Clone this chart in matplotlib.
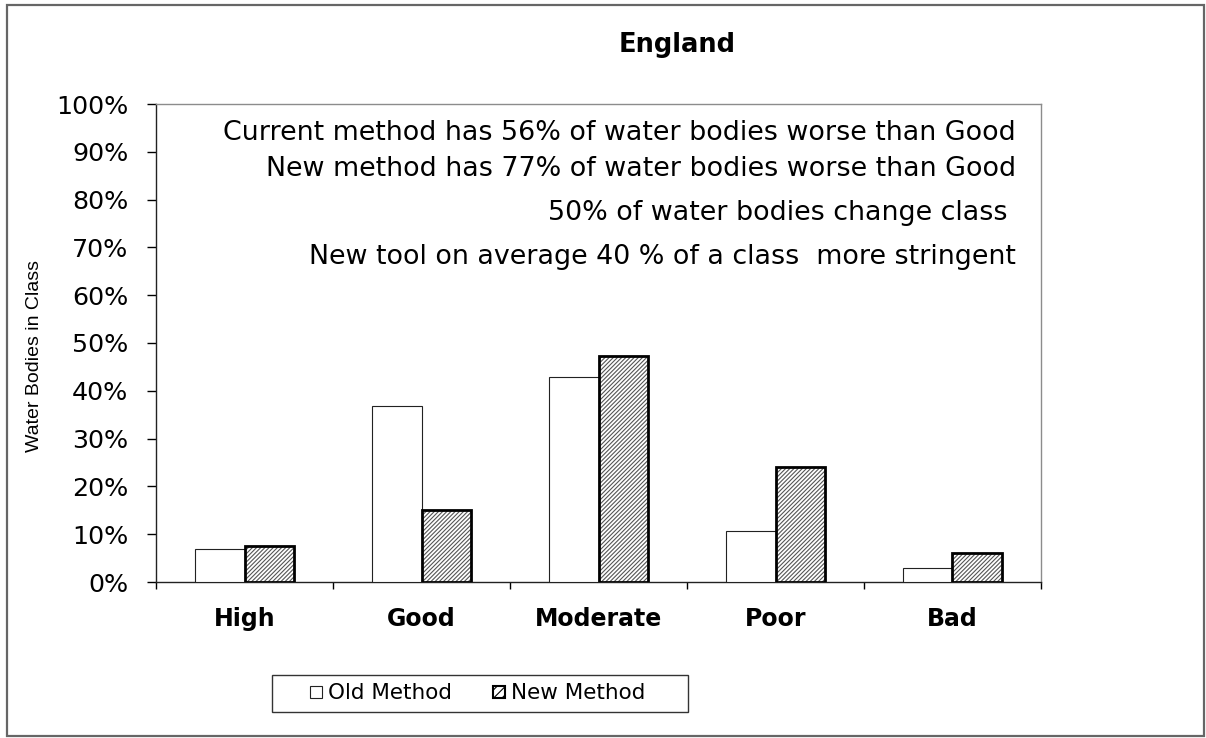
import matplotlib.pyplot as plt
import matplotlib.patches as mpatches
from matplotlib.legend_handler import HandlerPatch
import numpy as np

categories = ["High", "Good", "Moderate", "Poor", "Bad"]
old_method = [6.8, 36.8, 42.8, 10.6, 3.0]
new_method = [7.5, 15.0, 47.3, 24.0, 6.0]
y_ticks = list(range(0, 101, 10))
notes = [
    "Current method has 56% of water bodies worse than Good",
    "New method has 77% of water bodies worse than Good",
    "50% of water bodies change class ",
    "New tool on average 40 % of a class  more stringent",
]

W, H = 1206, 738
plt.rcParams["hatch.linewidth"] = 0.8
plt.rcParams["font.family"] = "DejaVu Sans"

fig = plt.figure(figsize=(W / 100, H / 100), dpi=100)
ax = fig.add_axes([156 / W, 1 - 582 / H, 885 / W, 478 / H])

x = np.arange(len(categories))
bw = 0.28
hatch = "////////"

ax.bar(x - bw / 2, old_method, bw, facecolor="white", edgecolor="#222222", linewidth=0.8, zorder=3)
# hatch in grey, thick black outline drawn on top
ax.bar(x + bw / 2, new_method, bw, facecolor="white", edgecolor="#555555", hatch=hatch, linewidth=0, zorder=3)
ax.bar(x + bw / 2, new_method, bw, facecolor="none", edgecolor="black", linewidth=2.0, zorder=4)

ax.set_xlim(-0.5, len(categories) - 0.5)
ax.set_ylim(0, 100)

ax.set_yticks(y_ticks)
ax.set_yticklabels([f"{v}%" for v in y_ticks], fontsize=18.3)
ax.tick_params(axis="y", direction="out", length=6.5, width=1, pad=13.5, colors="black")

ax.set_xticks(x)
ax.set_xticklabels(categories, fontsize=17, fontweight="bold")
ax.set_xticks(np.arange(-0.5, len(categories)), minor=True)
ax.tick_params(axis="x", which="major", length=0, pad=18)
ax.tick_params(axis="x", which="minor", direction="out", length=5, width=1)

for side in ("left", "bottom"):
    ax.spines[side].set_color("#222222")
    ax.spines[side].set_linewidth(1.0)
for side in ("top", "right"):
    ax.spines[side].set_color("#8c8c8c")
    ax.spines[side].set_linewidth(1.0)

fig.text(35 / W, 1 - 356 / H, "Water Bodies in Class", rotation=90, ha="center", va="center",
         fontsize=14, family="Liberation Sans")

fig.text(677 / W, 1 - 52 / H, "England", ha="center", va="baseline", fontsize=18.5, fontweight="bold")

for note, yb in zip(notes, [140, 176, 220, 264]):
    fig.text(1016 / W, 1 - yb / H, note, ha="right", va="baseline", fontsize=19.4)


def small_square(legend, orig_handle, xdescent, ydescent, width, height, fontsize):
    s = 0.55 * fontsize
    return mpatches.Rectangle((-xdescent + width - s, -ydescent + (height - s) / 2), s, s)


old_handle = mpatches.Patch(facecolor="white", edgecolor="#222222", linewidth=0.8)
new_handle = mpatches.Patch(facecolor="white", edgecolor="black", hatch="////", linewidth=1.5)
leg = fig.legend([old_handle, new_handle], ["Old Method", "New Method     "], ncol=2,
                 loc="lower left", bbox_to_anchor=(272 / W, 1 - 712 / H, 416 / W, 42 / H),
                 mode="expand", fontsize=15.5, handlelength=1.93, handleheight=0.7,
                 handletextpad=0.25, borderpad=0.4, borderaxespad=0, fancybox=False,
                 handler_map={mpatches.Patch: HandlerPatch(patch_func=small_square)})
leg.get_frame().set_edgecolor("black")
leg.get_frame().set_linewidth(1.0)

fig.add_artist(mpatches.Rectangle((7 / W, 1 - 736 / H), 1197 / W, 731 / H, transform=fig.transFigure,
                                  facecolor="none", edgecolor="#666666", linewidth=1.6))

fig.savefig("out.png", dpi=100)
